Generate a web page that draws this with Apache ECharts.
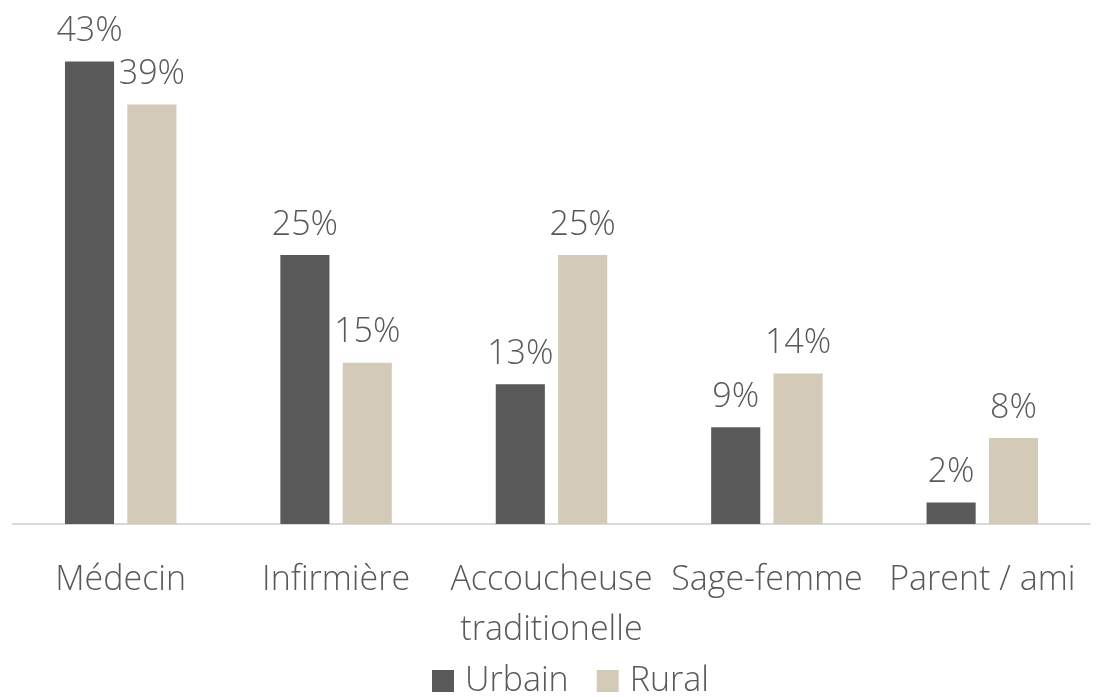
<!DOCTYPE html>
<html><head><meta charset="utf-8">
<script src="https://cdn.jsdelivr.net/npm/echarts@6/dist/echarts.min.js"></script>
<style>html,body{margin:0;padding:0;background:#fff}#c{width:1099px;height:697px}</style>
</head><body><div id="c"></div>
<script>
const categories = ['Médecin', 'Infirmière', 'Accoucheuse\ntraditionelle', 'Sage-femme', 'Parent / ami'];
const seriesNames = ['Urbain', 'Rural'];
const urbain = [43, 25, 13, 9, 2];
const rural = [39, 15, 25, 14, 8];
const colors = ['#595959', '#D3CBB8'];
const FONT = "'Open Sans', sans-serif";
const FS = 34;
const chart = echarts.init(document.getElementById('c'), null, {renderer: 'canvas'});
const lbl = {show: true, position: 'top', formatter: '{c}%', color: '#595959', fontSize: FS, fontFamily: FONT, fontWeight: 300, distance: 13};
chart.setOption({
  animation: false,
  color: colors,
  textStyle: {fontFamily: FONT},
  legend: {
    bottom: -6, left: 427, itemWidth: 22, itemHeight: 22, itemGap: 28,
    icon: 'rect',
    textStyle: {color: '#595959', fontSize: FS, fontFamily: FONT, fontWeight: 300, padding: [0, 0, 0, 6]}
  },
  grid: {left: 13, right: 9, top: 40, bottom: 173, containLabel: false},
  xAxis: {
    type: 'category', data: categories,
    axisLine: {lineStyle: {color: '#D9D9D9', width: 2}},
    axisTick: {show: false},
    axisLabel: {color: '#595959', fontSize: FS, fontFamily: FONT, fontWeight: 300, margin: 31, lineHeight: 50, interval: 0}
  },
  yAxis: {type: 'value', min: 0, max: 45, show: false, splitLine: {show: false}},
  series: [
    {name: seriesNames[0], type: 'bar', data: urbain, barWidth: '22.8%', barGap: '27%', label: lbl},
    {name: seriesNames[1], type: 'bar', data: rural, barWidth: '22.8%', barGap: '27%', label: lbl}
  ]
});
</script></body></html>
